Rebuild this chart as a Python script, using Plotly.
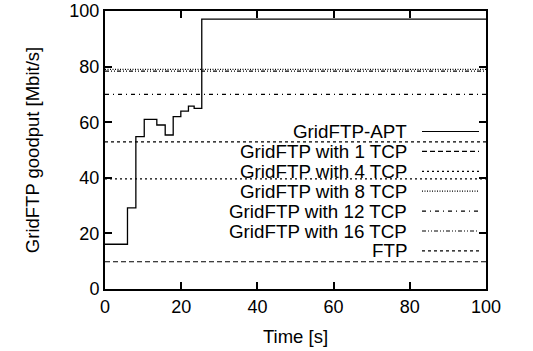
import plotly.graph_objects as go

# GridFTP-APT step curve (time in s, goodput in Mbit/s)
apt_time = [0, 5.9, 8.1, 10.3, 13.6, 15.8, 17.9, 19.9, 21.9, 23.4, 25.4, 100]
apt_goodput = [16.1, 29.2, 54.8, 61.0, 59.0, 55.4, 62.0, 64.0, 65.8, 65.0, 97.1, 97.1]

# Constant-rate reference series
ref_names = ["GridFTP with 1 TCP", "GridFTP with 4 TCP", "GridFTP with 8 TCP",
             "GridFTP with 12 TCP", "GridFTP with 16 TCP", "FTP"]
ref_values = [9.8, 39.6, 79.0, 70.0, 78.4, 52.9]
ref_span = [0, 100]

x_ticks = [0, 20, 40, 60, 80, 100]
y_ticks = [0, 20, 40, 60, 80, 100]

legend_names = ["GridFTP-APT"] + ref_names
dashes = ["solid", "5px,3px", "2px,3px", "1px,1.5px", "4px,4px,1px,4px",
          "4px,2px,1px,2px,1px,2px", "3px,3px"]

FONT = "Liberation Sans, Arial, Helvetica, sans-serif"

fig = go.Figure()
fig.add_trace(go.Scatter(x=apt_time, y=apt_goodput, mode="lines",
                         line=dict(color="black", width=1.3, shape="hv"),
                         name="GridFTP-APT", showlegend=False))
for name, val, dash in zip(ref_names, ref_values, dashes[1:]):
    fig.add_trace(go.Scatter(x=ref_span, y=[val, val], mode="lines",
                             line=dict(color="black", width=1.2, dash=dash),
                             name=name, showlegend=False))

# gnuplot-style key: right-aligned text, line sample to the right
L, R, T, B = 105, 47, 11, 62
W, H = 533, 351
pw, ph = W - L - R, H - T - B
text_right = (408 - L) / pw
samp0, samp1 = (422 - L) / pw, (479 - L) / pw
row_y0, row_dy = 131.5, 19.9
shapes = []
annotations = []
for i, (name, dash) in enumerate(zip(legend_names, dashes)):
    ypix = row_y0 + i * row_dy
    yp = (H - B - ypix) / ph
    annotations.append(dict(x=text_right, y=yp, xref="paper", yref="paper",
                            text=name, showarrow=False, xanchor="right",
                            yanchor="middle", borderpad=0,
                            font=dict(size=18.8, color="black", family=FONT)))
    shapes.append(dict(type="line", xref="paper", yref="paper",
                       x0=samp0, x1=samp1, y0=yp, y1=yp,
                       line=dict(color="black", width=1.2, dash=dash)))

axis_common = dict(showline=True, linecolor="black", linewidth=2, mirror="ticks",
                   ticks="inside", ticklen=7, tickwidth=2, tickcolor="black",
                   showgrid=False, zeroline=False, automargin=False,
                   tickfont=dict(size=18, color="black", family=FONT))

fig.update_layout(
    width=W, height=H,
    margin=dict(l=L, r=R, t=T, b=B),
    paper_bgcolor="white", plot_bgcolor="white",
    font=dict(family=FONT, color="black"),
    shapes=shapes, annotations=annotations,
    xaxis=dict(range=[0, 100], tickvals=x_ticks,
               title=dict(text="Time [s]", font=dict(size=18.5, family=FONT, color="black"), standoff=14),
               **axis_common),
    yaxis=dict(range=[0, 100], tickvals=y_ticks,
               title=dict(text="GridFTP goodput [Mbit/s]", font=dict(size=18.5, family=FONT, color="black"), standoff=25),
               **axis_common),
)

fig.write_html("out.html")
